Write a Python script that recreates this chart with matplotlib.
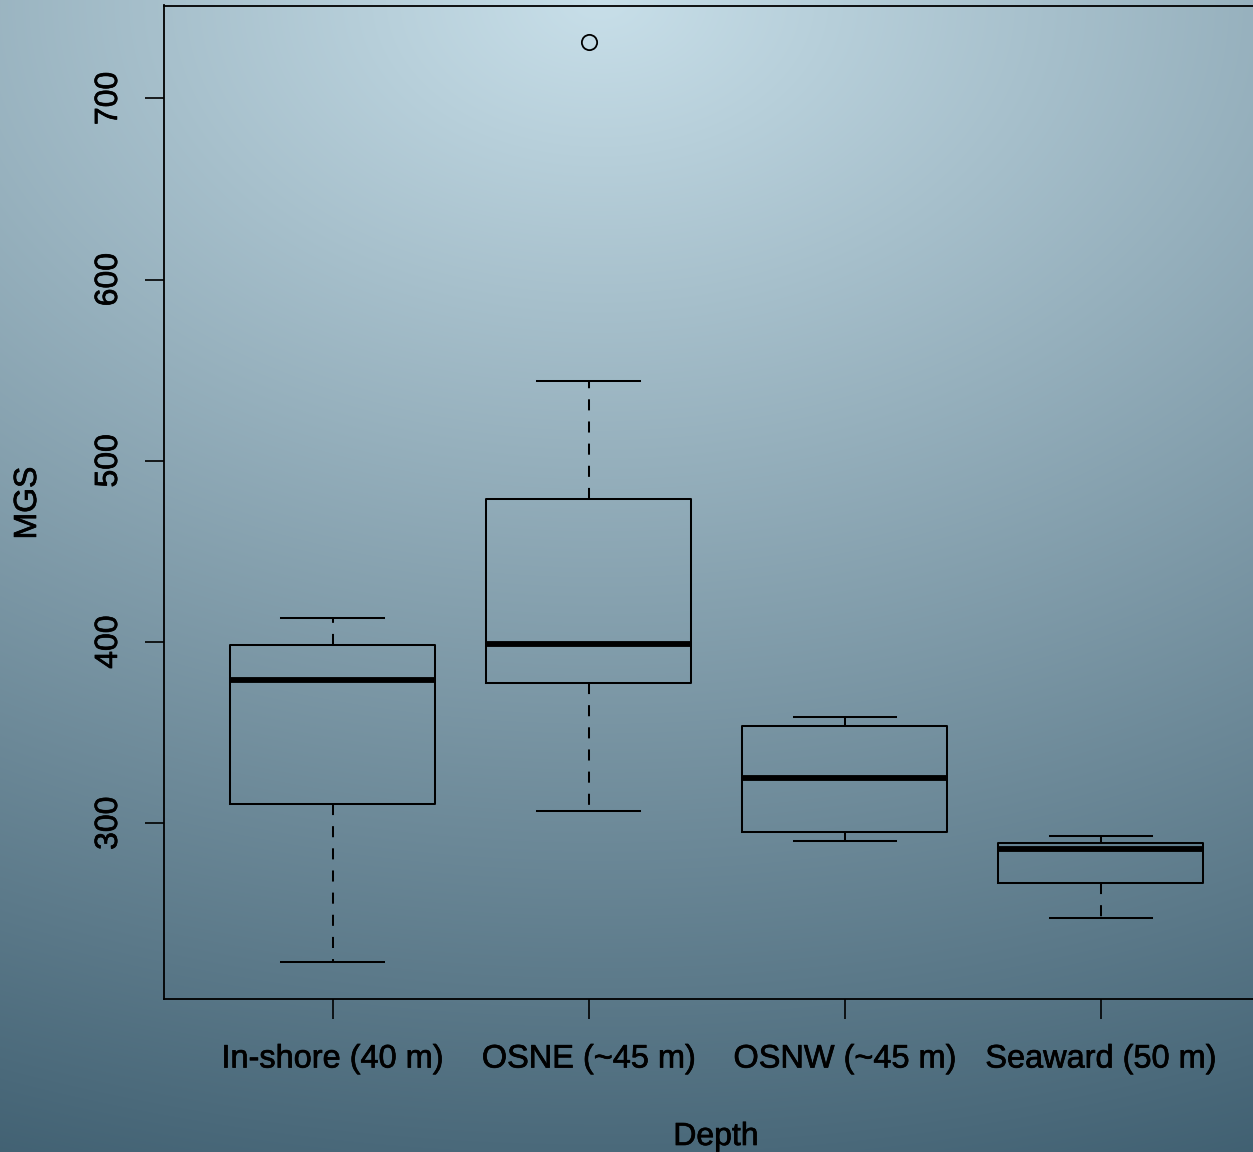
import numpy as np
import matplotlib
matplotlib.use("Agg")
import matplotlib.pyplot as plt
import matplotlib.patheffects as pe

plt.rcParams['font.family'] = ['Liberation Sans', 'DejaVu Sans']

# ---- data ----
categories = ["In-shore (40 m)", "OSNE (~45 m)", "OSNW (~45 m)", "Seaward (50 m)"]
whisker_low = [223.5, 306.8, 290.3, 247.8]
q1 = [310.8, 377.4, 295.3, 267.1]
median = [379.0, 399.1, 325.0, 285.9]
q3 = [398.3, 478.9, 353.7, 289.2]
whisker_high = [413.3, 544.0, 358.7, 293.1]
outliers = [[], [731.0], [], []]
y_ticks = [300, 400, 500, 600, 700]
x_label = "Depth"
y_label = "MGS"

W, H, DPI = 1253, 1152, 100
fig = plt.figure(figsize=(W / DPI, H / DPI), dpi=DPI)

# ---- gradient background ----
yy, xx = np.mgrid[0:H, 0:W]
t = np.sqrt(((xx - 600) / 1900.0) ** 2 + ((yy - 0) / 1300.0) ** 2)
t = np.clip(t, 0, 1)[..., None]
c_in = np.array([200, 223, 233]) / 255.0
c_out = np.array([58, 90, 108]) / 255.0
img = c_in * (1 - t) + c_out * t
bg = fig.add_axes([0, 0, 1, 1], zorder=-10)
bg.imshow(img, aspect='auto', extent=[0, 1, 0, 1], origin='upper')
bg.set_axis_off()

# ---- main axes (right edge extends beyond the figure as in the reference) ----
left_px, right_px, top_px, bot_px = 163.5, 1270.0, 5.5, 998.7
ax = fig.add_axes([left_px / W, 1 - bot_px / H, (right_px - left_px) / W, (bot_px - top_px) / H])
ax.patch.set_alpha(0)

stats = []
for i, name in enumerate(categories):
    stats.append(dict(label=name, med=median[i], q1=q1[i], q3=q3[i],
                      whislo=whisker_low[i], whishi=whisker_high[i],
                      fliers=outliers[i]))

lw = 1.45
ax.bxp(stats, positions=range(1, len(categories) + 1), widths=0.8, capwidths=0.4,
       showfliers=True,
       boxprops=dict(color='black', linewidth=lw),
       whiskerprops=dict(color='black', linewidth=lw, linestyle=(0, (5.5, 5.5))),
       capprops=dict(color='black', linewidth=lw),
       medianprops=dict(color='black', linewidth=4.2, solid_capstyle='butt'),
       flierprops=dict(marker='o', markerfacecolor='none', markeredgecolor='black',
                       markersize=11, markeredgewidth=1.3))

# R-style 4% axis expansion
all_vals = whisker_low + whisker_high + [v for o in outliers for v in o]
lo, hi = min(all_vals), max(all_vals)
pad = 0.04 * (hi - lo)
ax.set_ylim(lo - pad, hi + pad)
n = len(categories)
ax.set_xlim(0.5 - 0.04 * n, n + 0.5 + 0.04 * n)

stroke = [pe.withStroke(linewidth=0.5, foreground='black')]
ax.set_yticks(y_ticks)
ax.set_yticklabels([str(v) for v in y_ticks], rotation=90, va='center', fontsize=23,
                   path_effects=stroke)
ax.set_xticks(range(1, n + 1))
ax.set_xticklabels(categories, fontsize=23.4, path_effects=stroke)
ax.tick_params(axis='y', length=13.5, width=1.2, pad=15, colors='black')
ax.tick_params(axis='x', length=14.5, width=1.2, pad=18.5, colors='black')
for s in ax.spines.values():
    s.set_linewidth(1.3)
    s.set_color('black')

fig.text(716 / W, 1 - 1137 / H, x_label, ha='center', va='center', fontsize=23,
         path_effects=stroke)
fig.text(28 / W, 1 - 503 / H, y_label, ha='center', va='center', rotation=90, fontsize=23,
         path_effects=stroke)

fig.savefig("out.png", dpi=DPI)
